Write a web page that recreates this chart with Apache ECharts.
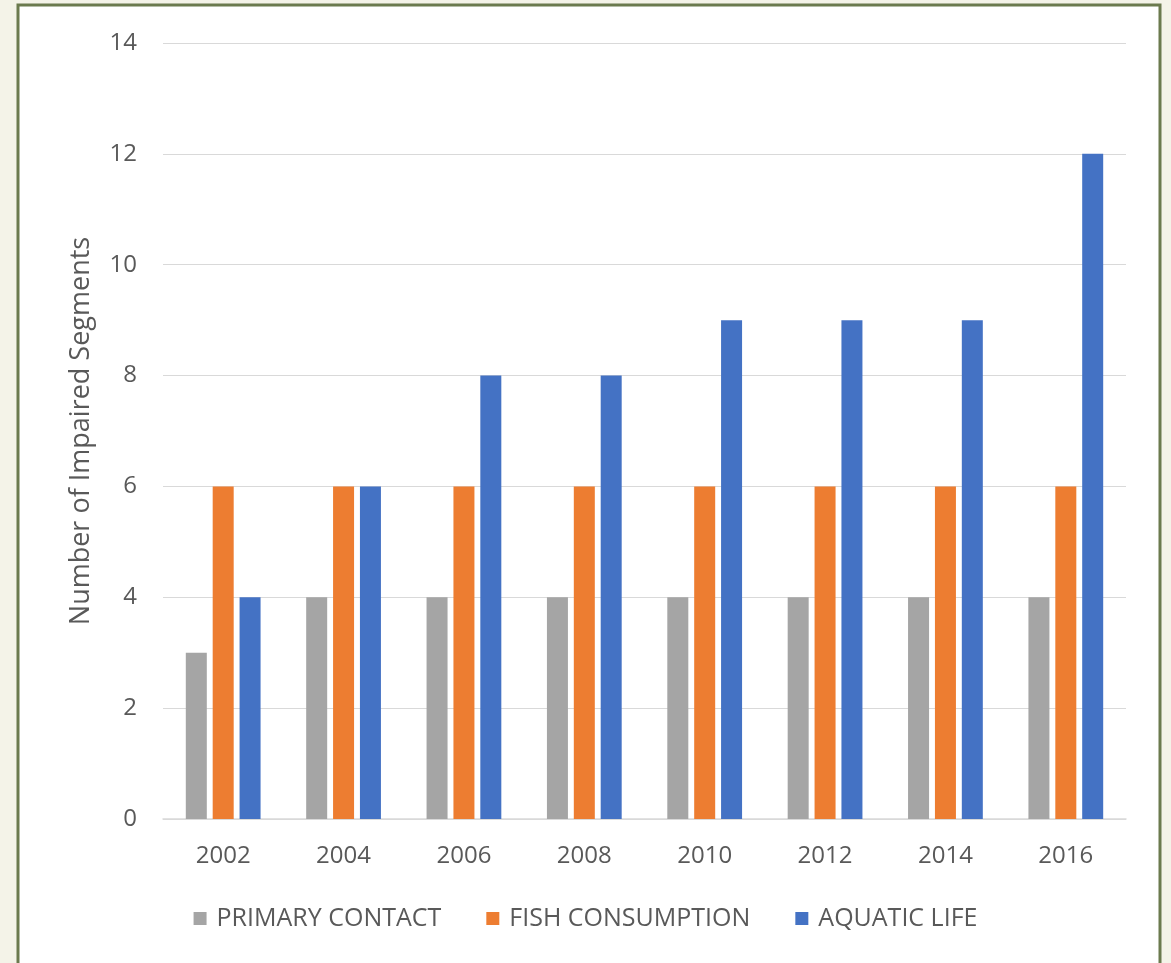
<!DOCTYPE html>
<html>
<head>
<meta charset="utf-8">
<script src="https://cdn.jsdelivr.net/npm/echarts@6/dist/echarts.min.js"></script>
<style>
html,body{margin:0;padding:0;background:#f4f3e8;}
#c{width:1171px;height:963px;}
</style>
</head>
<body>
<div id="c"></div>
<script>
const years = ['2002','2004','2006','2008','2010','2012','2014','2016'];
const primaryContact = [3,4,4,4,4,4,4,4];
const fishConsumption = [6,6,6,6,6,6,6,6];
const aquaticLife = [4,6,8,8,9,9,9,12];
const seriesNames = ['PRIMARY CONTACT','FISH CONSUMPTION','AQUATIC LIFE'];
const colors = ['#a5a5a5','#ed7d31','#4472c4'];

const chart = echarts.init(document.getElementById('c'), null, {renderer:'canvas'});
const font = '"Open Sans", "Noto Sans", sans-serif';
chart.setOption({
  backgroundColor: '#f4f3e8',
  color: colors,
  animation: false,
  graphic: [{
    type: 'rect', silent: true, z: -10,
    shape: {x: 18, y: 5, width: 1142, height: 975},
    style: {fill: '#ffffff', stroke: '#6b7a4e', lineWidth: 3}
  }],
  grid: {left: 163, right: 45, top: 43, bottom: 144, containLabel: false},
  legend: {
    bottom: 27, left: 'center',
    itemWidth: 13, itemHeight: 13, itemGap: 45,
    icon: 'rect',
    textStyle: {fontFamily: font, fontSize: 25, color: '#595959', padding: [0,0,0,5]},
    data: seriesNames
  },
  xAxis: {
    type: 'category', data: years,
    axisLine: {lineStyle: {color: '#d9d9d9', width: 1.5}},
    axisTick: {show: false},
    axisLabel: {fontFamily: font, fontSize: 24, color: '#595959', margin: 25}
  },
  yAxis: {
    type: 'value', min: 0, max: 14, interval: 2,
    name: 'Number of Impaired Segments',
    nameLocation: 'middle', nameGap: 68,
    nameTextStyle: {fontFamily: font, fontSize: 27, color: '#595959'},
    axisLine: {show: false}, axisTick: {show: false},
    splitLine: {lineStyle: {color: '#d9d9d9', width: 1.2}},
    axisLabel: {fontFamily: font, fontSize: 24, color: '#595959', margin: 26}
  },
  series: [
    {name: seriesNames[0], type: 'bar', data: primaryContact, barWidth: 21, barGap: '28%'},
    {name: seriesNames[1], type: 'bar', data: fishConsumption, barWidth: 21, barGap: '28%'},
    {name: seriesNames[2], type: 'bar', data: aquaticLife, barWidth: 21, barGap: '28%'}
  ]
});
</script>
</body>
</html>
